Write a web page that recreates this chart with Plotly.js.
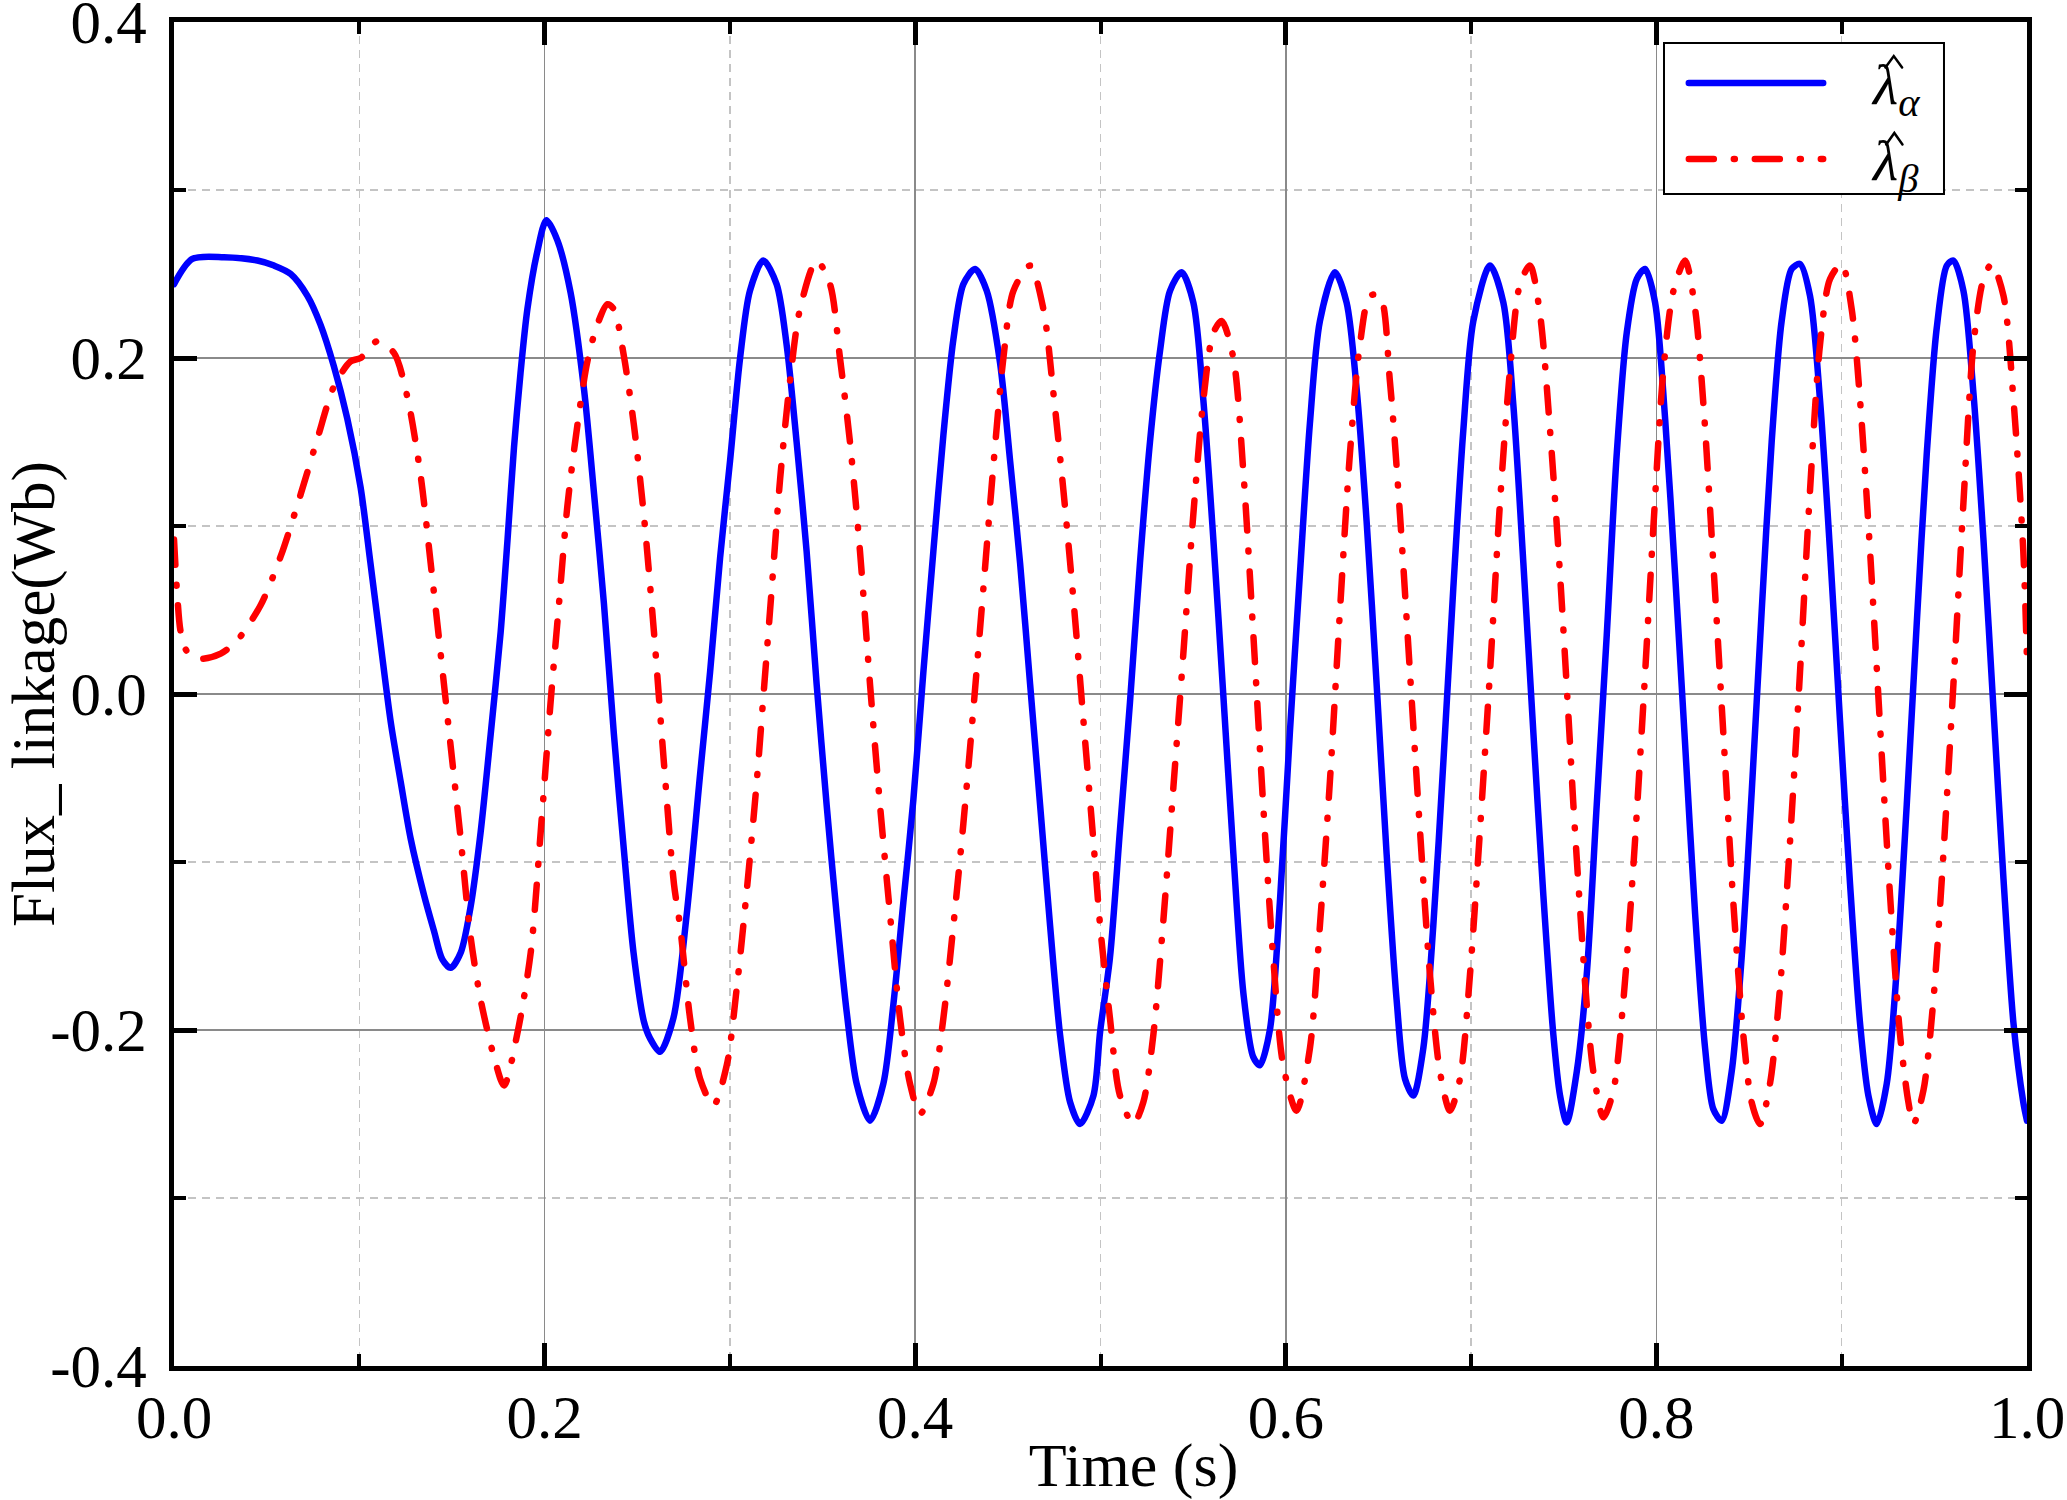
<!DOCTYPE html>
<html>
<head>
<meta charset="utf-8">
<script src="https://cdn.plot.ly/plotly-3.0.1.min.js"></script>
<style>
html,body{margin:0;padding:0;background:#fff;}
.js-line{stroke-linecap:round !important;stroke-linejoin:round !important;}
.shapelayer path{stroke-linecap:round !important;}
text.xtitle{transform:translateX(33px);}
text.ytitle{translate:-7px 0;}
</style>
</head>
<body>
<div id="chart" style="width:2067px;height:1500px;"></div>
<script>
var timeAlpha = [0,0.0099,0.027,0.045,0.054,0.063,0.072,0.079,0.0863,0.0935,0.1007,0.106,0.1115,0.117,0.1223,0.1277,0.135,0.1403,0.1448,0.1493,0.1547,0.160,0.1655,0.1709,0.1763,0.180,0.1835,0.187,0.1907,0.196,0.201,0.2069,0.214,0.2213,0.2267,0.232,0.2374,0.2428,0.248,0.2536,0.2569,0.2623,0.2695,0.2767,0.2839,0.2893,0.2947,0.3001,0.3055,0.3108,0.318,0.3252,0.3306,0.336,0.3414,0.3468,0.3522,0.3576,0.363,0.3684,0.3756,0.3828,0.3882,0.3936,0.399,0.4044,0.4098,0.4152,0.4206,0.426,0.4323,0.4386,0.4458,0.4512,0.4566,0.462,0.4674,0.4728,0.4782,0.4836,0.489,0.4962,0.4998,0.5051,0.5105,0.5159,0.5213,0.5267,0.5321,0.5375,0.5438,0.5501,0.5555,0.5609,0.5663,0.5717,0.5771,0.5824,0.586,0.5914,0.5968,0.6022,0.6076,0.613,0.6184,0.6265,0.6328,0.6382,0.6436,0.649,0.6544,0.6598,0.6643,0.6688,0.6742,0.6796,0.685,0.6904,0.6958,0.7012,0.7102,0.7174,0.7228,0.7282,0.7336,0.739,0.7444,0.748,0.7516,0.757,0.7624,0.7678,0.7732,0.7786,0.784,0.7894,0.7939,0.7993,0.8047,0.8101,0.8155,0.8209,0.8263,0.8307,0.8352,0.8406,0.846,0.8514,0.8568,0.8622,0.8676,0.873,0.8775,0.8829,0.8883,0.8937,0.8991,0.9045,0.9099,0.9144,0.9189,0.9243,0.9297,0.9351,0.9405,0.9459,0.9513,0.9567,0.9603,0.9657,0.9711,0.9765,0.9819,0.9873,0.9927,0.998,1.0];
var fluxAlpha = [0.244,0.259,0.260,0.258,0.255,0.250,0.237,0.220,0.195,0.164,0.123,0.078,0.030,-0.017,-0.052,-0.086,-0.120,-0.141,-0.158,-0.163,-0.154,-0.127,-0.082,-0.024,0.037,0.092,0.147,0.191,0.229,0.263,0.282,0.270,0.239,0.181,0.119,0.054,-0.024,-0.093,-0.154,-0.195,-0.205,-0.213,-0.193,-0.131,-0.048,0.013,0.081,0.139,0.200,0.240,0.258,0.244,0.208,0.150,0.085,0.006,-0.066,-0.131,-0.189,-0.232,-0.254,-0.232,-0.185,-0.124,-0.063,0.013,0.085,0.154,0.211,0.244,0.253,0.240,0.197,0.139,0.078,0.006,-0.066,-0.138,-0.203,-0.243,-0.256,-0.239,-0.201,-0.157,-0.081,-0.005,0.078,0.150,0.204,0.240,0.251,0.233,0.175,0.092,-0.001,-0.095,-0.178,-0.216,-0.221,-0.200,-0.124,-0.023,0.071,0.161,0.222,0.251,0.233,0.182,0.103,0.006,-0.095,-0.182,-0.229,-0.239,-0.211,-0.138,-0.041,0.063,0.157,0.222,0.255,0.233,0.172,0.078,-0.023,-0.120,-0.203,-0.239,-0.255,-0.225,-0.167,-0.066,0.035,0.143,0.215,0.247,0.253,0.233,0.164,0.071,-0.030,-0.131,-0.211,-0.247,-0.254,-0.225,-0.157,-0.059,0.049,0.150,0.222,0.253,0.256,0.237,0.175,0.085,-0.016,-0.113,-0.196,-0.239,-0.256,-0.232,-0.164,-0.066,0.042,0.143,0.218,0.255,0.258,0.240,0.179,0.092,-0.009,-0.110,-0.196,-0.243,-0.254];

var timeBeta = [0,0.0018,0.0036,0.0072,0.0144,0.0252,0.0342,0.0468,0.0576,0.0684,0.0774,0.0863,0.0953,0.1007,0.1097,0.1187,0.1259,0.1331,0.1385,0.1439,0.1493,0.1547,0.160,0.1655,0.1727,0.1781,0.1853,0.1925,0.1979,0.2033,0.2078,0.2123,0.2177,0.2231,0.2285,0.2339,0.2374,0.2428,0.2482,0.2536,0.259,0.2644,0.2698,0.2731,0.2785,0.2839,0.2911,0.2983,0.3037,0.3091,0.3145,0.3181,0.3226,0.3271,0.3324,0.3378,0.3468,0.354,0.3594,0.3648,0.3702,0.3756,0.381,0.3864,0.3918,0.3972,0.4026,0.4098,0.4152,0.4206,0.426,0.4314,0.4368,0.4422,0.4476,0.453,0.462,0.4692,0.4746,0.48,0.4854,0.4908,0.4962,0.4998,0.5051,0.5105,0.5177,0.5231,0.5285,0.5339,0.5393,0.5447,0.5501,0.5555,0.5609,0.5654,0.5717,0.5771,0.5825,0.5878,0.5932,0.5986,0.6058,0.613,0.6184,0.6238,0.6292,0.6346,0.64,0.6454,0.6508,0.6562,0.6616,0.667,0.6724,0.6778,0.6832,0.6886,0.694,0.6994,0.7048,0.7102,0.7156,0.721,0.7264,0.7318,0.7372,0.7426,0.748,0.7534,0.7552,0.7588,0.7624,0.766,0.7714,0.7768,0.7822,0.7876,0.793,0.7984,0.8038,0.8092,0.8155,0.8209,0.8254,0.8307,0.8361,0.8415,0.8469,0.8514,0.8559,0.8613,0.8667,0.8721,0.8775,0.8829,0.8883,0.8937,0.9,0.9054,0.9099,0.9153,0.9207,0.9261,0.9315,0.936,0.9387,0.9441,0.9495,0.9549,0.9603,0.9657,0.9711,0.9765,0.981,0.9873,0.9927,0.998,1.0];
var fluxBeta = [0.092,0.058,0.037,0.025,0.021,0.024,0.032,0.053,0.082,0.119,0.152,0.183,0.198,0.200,0.210,0.203,0.177,0.130,0.078,0.024,-0.031,-0.086,-0.144,-0.182,-0.216,-0.233,-0.202,-0.154,-0.082,-0.004,0.054,0.112,0.160,0.198,0.220,0.232,0.229,0.201,0.160,0.106,0.037,-0.041,-0.113,-0.138,-0.193,-0.229,-0.245,-0.221,-0.175,-0.117,-0.052,-0.001,0.063,0.128,0.186,0.229,0.258,0.244,0.200,0.150,0.085,0.006,-0.066,-0.131,-0.193,-0.232,-0.250,-0.232,-0.193,-0.138,-0.077,-0.009,0.063,0.136,0.200,0.240,0.255,0.229,0.179,0.121,0.056,-0.016,-0.088,-0.138,-0.193,-0.239,-0.256,-0.243,-0.203,-0.135,-0.056,0.024,0.107,0.175,0.215,0.222,0.200,0.132,0.035,-0.066,-0.157,-0.221,-0.248,-0.211,-0.138,-0.052,0.049,0.143,0.208,0.237,0.237,0.186,0.107,0.013,-0.081,-0.167,-0.225,-0.248,-0.229,-0.167,-0.081,0.013,0.114,0.193,0.244,0.255,0.226,0.157,0.071,-0.030,-0.066,-0.128,-0.185,-0.225,-0.252,-0.236,-0.182,-0.102,-0.005,0.100,0.193,0.240,0.258,0.229,0.172,0.078,-0.023,-0.124,-0.203,-0.243,-0.256,-0.232,-0.175,-0.088,0.013,0.121,0.208,0.247,0.256,0.229,0.175,0.085,-0.019,-0.120,-0.203,-0.243,-0.256,-0.236,-0.182,-0.095,0.006,0.114,0.208,0.247,0.256,0.237,0.175,0.085,0.020];

var xTickVals = [0, 0.2, 0.4, 0.6, 0.8, 1.0];
var xTickText = ['0.0', '0.2', '0.4', '0.6', '0.8', '1.0'];
var yTickVals = [-0.4, -0.2, 0, 0.2, 0.4];
var yTickText = ['-0.4', '-0.2', '0.0', '0.2', '0.4'];
var seriesNames = ['<i>\u03BB</i><sub><i>\u03B1</i></sub>', '<i>\u03BB</i><sub><i>\u03B2</i></sub>'];
var seriesColors = ['#0000ff', '#ff0000'];
var betaDash = '25px,20px,1px,20px';

var FONT = '"Liberation Serif", "Times New Roman", serif';

var traces = [
  {x: timeAlpha, y: fluxAlpha, type: 'scatter', mode: 'lines', name: '\u03BB\u0302\u03B1',
   line: {color: seriesColors[0], width: 6.5, shape: 'spline', smoothing: 0.8}},
  {x: timeBeta, y: fluxBeta, type: 'scatter', mode: 'lines', name: '\u03BB\u0302\u03B2',
   line: {color: seriesColors[1], width: 6.5, dash: betaDash, shape: 'spline', smoothing: 0.8}}
];

function axisBase() {
  return {
    showline: true, linecolor: '#000', linewidth: 5, mirror: 'allticks',
    ticks: 'inside', ticklen: 23, tickwidth: 5, tickcolor: '#000',
    showgrid: true, gridcolor: '#8a8a8a', gridwidth: 1.5,
    zeroline: false, tickmode: 'array', ticklabeloverflow: 'allow',
    tickfont: {family: FONT, size: 61, color: '#000'},
    minor: {tickmode: 'linear', dtick: 0.1, ticks: 'inside', ticklen: 12, tickwidth: 4, tickcolor: '#000',
            showgrid: true, gridcolor: '#c4c4c4', gridwidth: 1.5, griddash: '8px,6px'}
  };
}

var xaxis = axisBase();
Object.assign(xaxis, {range: [0, 1], tickvals: xTickVals, ticktext: xTickText, ticklabelstandoff: -6,
  title: {text: 'Time (s)', font: {family: FONT, size: 62, color: '#000'}, standoff: 4}});
xaxis.minor.tick0 = 0;
var yaxis = axisBase();
Object.assign(yaxis, {range: [-0.4, 0.4], tickvals: yTickVals, ticktext: yTickText, ticklabelstandoff: 10,
  title: {text: 'Flux_ linkage(Wb)', font: {family: FONT, size: 61, color: '#000'}, standoff: 22}});
yaxis.minor.tick0 = -0.4;

// legend box drawn in paper coordinates
var L = {x0: 0.8041, x1: 0.9552, y0: 0.8720, y1: 0.9844, lx0: 0.8175, lx1: 0.8900, ya: 0.9546, yb: 0.8981, tx: 0.9150};
function hatPath(xl, xc, xr, ytop, ybot) {
  return 'M' + xl + ',' + ybot + ' L' + xc + ',' + ytop + ' L' + xr + ',' + ybot;
}
var shapes = [
  {type: 'rect', xref: 'paper', yref: 'paper', x0: L.x0, x1: L.x1, y0: L.y0, y1: L.y1,
   line: {color: '#000', width: 2}, fillcolor: '#fff', layer: 'above'},
  {type: 'line', xref: 'paper', yref: 'paper', x0: L.lx0, x1: L.lx1, y0: L.ya, y1: L.ya,
   line: {color: seriesColors[0], width: 6.5}, layer: 'above'},
  {type: 'line', xref: 'paper', yref: 'paper', x0: L.lx0, x1: L.lx1, y0: L.yb, y1: L.yb,
   line: {color: seriesColors[1], width: 6.5, dash: betaDash}, layer: 'above'},
  {type: 'path', xref: 'paper', yref: 'paper', path: hatPath(0.9236, 0.9281, 0.9326, 0.9747, 0.9662),
   line: {color: '#000', width: 2.5}, layer: 'above'},
  {type: 'path', xref: 'paper', yref: 'paper', path: hatPath(0.9240, 0.9284, 0.9328, 0.9174, 0.9089),
   line: {color: '#000', width: 2.5}, layer: 'above'}
];
var annotations = [
  {xref: 'paper', yref: 'paper', x: L.tx, y: L.ya - 0.004, xanchor: 'left', yanchor: 'middle', showarrow: false,
   text: seriesNames[0], font: {family: FONT, size: 58, color: '#000'}},
  {xref: 'paper', yref: 'paper', x: L.tx, y: L.yb - 0.004, xanchor: 'left', yanchor: 'middle', showarrow: false,
   text: seriesNames[1], font: {family: FONT, size: 58, color: '#000'}}
];

var layout = {
  width: 2067, height: 1500,
  margin: {l: 174, r: 40, t: 22, b: 134, pad: 0},
  paper_bgcolor: '#fff', plot_bgcolor: '#fff',
  showlegend: false,
  font: {family: FONT, color: '#000'},
  xaxis: xaxis, yaxis: yaxis,
  shapes: shapes, annotations: annotations
};

Plotly.newPlot('chart', traces, layout, {displayModeBar: false, staticPlot: true});
</script>
</body>
</html>
